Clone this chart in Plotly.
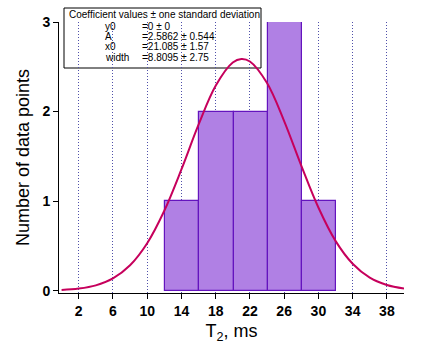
import plotly.graph_objects as go

# ---- data ----
bin_left = [12.1, 16.1, 20.1, 24.1, 28.1]
bin_width = 4.0
counts = [1, 2, 2, 3, 1]

fit_x = [0, 2, 4, 6, 8, 10, 12, 14, 16, 18, 20, 21, 22, 24, 26, 28, 30, 32, 34, 36, 38, 40]
fit_y = [0.008, 0.024, 0.060, 0.138, 0.285, 0.531, 0.893, 1.354, 1.854, 2.288, 2.547, 2.586,
         2.559, 2.318, 1.894, 1.397, 0.929, 0.557, 0.302, 0.147, 0.065, 0.026]

coef_names = ["y0", "A", "x0", "width"]
coef_values = ["=0 ± 0", "=2.5862 ± 0.544", "=21.085 ± 1.57", "=8.8095 ± 2.75"]
box_title = "Coefficient values ± one standard deviation"

x_ticks = [2, 6, 10, 14, 18, 22, 26, 30, 34, 38]
y_ticks = [0, 1, 2, 3]

FONT = "Liberation Sans, Arial, sans-serif"

centers = [b + bin_width / 2 for b in bin_left]

# layout geometry (pixels -> paper)
L, R, T, B = 59, 21, 22, 55
W, H = 425, 348
pw, ph = W - L - R, H - T - B

def px(x):
    return (x - L) / pw

def py(y):
    return (H - B - y) / ph

fig = go.Figure()

# coefficient box (drawn under the data, no fill)
fig.add_shape(type="rect", xref="paper", yref="paper",
              x0=px(64), x1=px(261), y0=py(68), y1=py(8),
              line=dict(color="black", width=1), fillcolor="rgba(0,0,0,0)", layer="below")

fig.add_trace(go.Bar(
    x=centers, y=counts, width=[bin_width] * len(counts),
    marker=dict(color="rgb(176,128,228)", line=dict(color="rgb(100,20,190)", width=1.2)),
    showlegend=False,
))
fig.add_trace(go.Scatter(
    x=fit_x, y=fit_y, mode="lines", line=dict(color="rgb(198,0,92)", width=2, shape="spline"),
    showlegend=False,
))

fig.update_layout(
    width=W, height=H,
    margin=dict(l=L, r=R, t=T, b=B),
    paper_bgcolor="white", plot_bgcolor="white",
    font=dict(family=FONT, color="black"),
    bargap=0,
    xaxis=dict(
        range=[-0.3, 40], tickvals=x_ticks, ticks="outside", ticklen=5, tickcolor="black",
        showline=True, linecolor="black", linewidth=1,
        showgrid=True, gridcolor="rgb(80,80,170)", griddash="1px,2px", gridwidth=1,
        tickfont=dict(size=14, family=FONT, weight="bold"),
        title=dict(text="T<sub>2</sub>, ms", font=dict(size=18), standoff=6),
        zeroline=False, layer="below traces",
    ),
    yaxis=dict(
        range=[-0.025, 3.0], tickvals=y_ticks, ticks="outside", ticklen=5, tickcolor="black",
        showline=True, linecolor="black", linewidth=1, showgrid=False, zeroline=False,
        tickfont=dict(size=14, family=FONT, weight="bold"),
        title=dict(text="Number of data points", font=dict(size=18), standoff=8),
    ),
)

fig.add_annotation(xref="paper", yref="paper", x=px(67), y=py(15), xanchor="left", yanchor="middle",
                   text=box_title, showarrow=False, font=dict(size=10, family=FONT))
rows_y = [26, 36.5, 47, 57.5]
for name, val, yy in zip(coef_names, coef_values, rows_y):
    fig.add_annotation(xref="paper", yref="paper", x=px(103), y=py(yy), xanchor="left", yanchor="middle",
                       text=name, showarrow=False, font=dict(size=10, family=FONT))
    fig.add_annotation(xref="paper", yref="paper", x=px(140), y=py(yy), xanchor="left", yanchor="middle",
                       text=val, showarrow=False, font=dict(size=10, family=FONT))

fig.write_html("out.html")
